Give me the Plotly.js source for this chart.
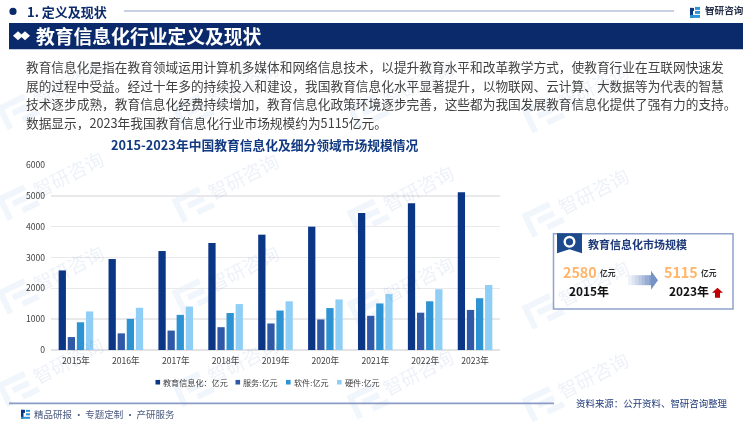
<!DOCTYPE html>
<html><head><meta charset="utf-8">
<script src="https://cdn.plot.ly/plotly-3.0.1.min.js"></script>
<style>html,body{margin:0;padding:0;background:#fff;overflow:hidden}#c{width:750px;height:422px}</style>
</head><body><div id="c"></div>
<script>
const years = ['2015年','2016年','2017年','2018年','2019年','2020年','2021年','2022年','2023年'];
const seriesNames = ['教育信息化：亿元','服务:亿元','软件:亿元','硬件:亿元'];
const seriesColors = ['#0b3585','#2f59a6','#2e93d2','#90cff5'];
const total = [2580,2950,3210,3470,3740,4000,4440,4760,5115];
const service = [420,540,630,740,860,990,1110,1210,1300];
const software = [900,1010,1140,1200,1280,1360,1510,1580,1680];
const hardware = [1250,1370,1410,1490,1580,1640,1820,1970,2110];
const seriesValues = [total,service,software,hardware];
const paragraph = [
 '教育信息化是指在教育领域运用计算机多媒体和网络信息技术，以提升教育水平和改革教学方式，使教育行业在互联网快速发',
 '展的过程中受益。经过十年多的持续投入和建设，我国教育信息化水平显著提升，以物联网、云计算、大数据等为代表的智慧',
 '技术逐步成熟，教育信息化经费持续增加，教育信息化政策环境逐步完善，这些都为我国发展教育信息化提供了强有力的支持。',
 '数据显示，2023年我国教育信息化行业市场规模约为5115亿元。'];

const FONT='"Noto Sans CJK SC","Noto Sans",sans-serif';
const L=51,R=500,T=164.5,B=350;
const X=p=>(p-L)/(R-L), Y=p=>(B-p)/(B-T);
const shapes=[], ann=[];
function rect(x0,y0,x1,y1,fill,extra){shapes.push(Object.assign({type:'rect',xref:'paper',yref:'paper',x0:X(x0),x1:X(x1),y0:Y(y0),y1:Y(y1),fillcolor:fill,line:{width:0},layer:'below'},extra||{}));}
function poly(pts,fill,layer){shapes.push({type:'path',xref:'paper',yref:'paper',path:'M'+pts.map(p=>X(p[0]).toFixed(5)+','+Y(p[1]).toFixed(5)).join('L')+'Z',fillcolor:fill,line:{width:0},layer:layer||'below'});}
function circle(cx,cy,r,fill){shapes.push({type:'circle',xref:'paper',yref:'paper',x0:X(cx-r),x1:X(cx+r),y0:Y(cy+r),y1:Y(cy-r),fillcolor:fill,line:{width:0},layer:'below'});}
function text(t,x,y,size,color,opt){ann.push(Object.assign({text:t,x:X(x),y:Y(y),xref:'paper',yref:'paper',xanchor:'left',yanchor:'middle',showarrow:false,align:'left',borderpad:0,font:{family:FONT,size:size,color:color}},opt||{}));}

// watermark
function logoMark(x,y,c){
 const a=-0.45,cs=Math.cos(a),sn=Math.sin(a);
 const P=(u,v)=>[x+u*cs-v*sn,y+u*sn+v*cs];
 [[-16,-12,14,-6],[-16,-6,-10,14],[-4,-2,14,4],[2,8,20,14]].forEach(r=>poly([P(r[0],r[1]),P(r[2],r[1]),P(r[2],r[3]),P(r[0],r[3])],c));
}
const watermarkSpots=[[68,173],[243,175],[418,187],[593,190],[68,267],[243,267],[418,278],[593,282],[68,360],[243,360],[418,372],[593,375],[243,82],[418,82],[593,85],[68,82]];
watermarkSpots.forEach(p=>{
 text('智研咨询',p[0],p[1],19,'#eef2f8',{xanchor:'center',textangle:-27});
 logoMark(p[0]-52,p[1]+28,'rgba(228,238,248,0.55)');
});

// header
circle(13,10.5,3.6,'#0b2a6b');
text('<b>1. 定义及现状</b>',26,11,13,'#0b2a6b');
rect(124,9.6,674,10.6,'#8fa3cc');
rect(690,7,694,10,'#0b3585');rect(690,7,693,17,'#0b3585');rect(695,6,700,9,'#2e93d2');rect(695,10,700,13,'#2e93d2');rect(690,14,700,17,'#2e93d2');
text('<b>智研咨询</b>',704,9.5,9.6,'#26304a');
rect(9,22,743,48.5,'#0b2a6b');
poly([[13,35],[18,30.5],[23,35],[18,39.5]],'#ffffff');
poly([[20,35],[25,30.5],[30,35],[25,39.5]],'#ffffff');
text('<b>教育信息化行业定义及现状</b>',35,35,18.8,'#ffffff');
paragraph.forEach((s,i)=>text(s,25,65.5+i*18.8,12.7,'#404040'));
text('<b>2015-2023年中国教育信息化及细分领域市场规模情况</b>',264,144,12.75,'#123a82',{xanchor:'center'});

// legend
[155.5,235.5,286,337].forEach((x,i)=>{
 rect(x,380,x+4.6,384.6,seriesColors[i]);
 text(seriesNames[i],x+6.5,382.3,8.1,'#404040');
});

// call-out box
shapes.push({type:'rect',xref:'paper',yref:'paper',x0:X(553.5),x1:X(733),y0:Y(309),y1:Y(233.5),fillcolor:'rgba(0,0,0,0)',line:{color:'#8fa3cc',width:1.5},layer:'below'});
poly([[557,233],[582,233],[582,253],[569.5,249],[557,253]],'#1d4a8c');
circle(569.5,241.5,6,'#ffffff');
circle(569.5,241.5,3.6,'#1d4a8c');
text('<b>教育信息化市场规模</b>',587,244,11,'#1f3a7a');
text('<b>2580</b>',562,271.5,14.3,'#ffb469');
text('<b>亿元</b>',599,272.5,7.8,'#333333');
text('<b>2015年</b>',568,290,11.9,'#111111');
text('<b>5115</b>',663,271.5,14.3,'#ffb469');
text('<b>亿元</b>',700,272.5,7.8,'#333333');
text('<b>2023年</b>',668,290,11.9,'#111111');
poly([[717.5,287.5],[723,292.5],[720,292.5],[720,297.5],[715,297.5],[715,292.5],[712,292.5]],'#c00000');
// gradient arrow
['#eef2f9','#dfe6f3','#cfd9ec','#bdcae4','#abbbdc','#98add4','#869fcc'].forEach((c,i)=>{
 rect(628+i*3.4,275,628+(i+1)*3.4+0.3,285,c);
});
poly([[651,270.5],[658,280],[651,289.5]],'#7693c5');

// footer
rect(9,402.6,554,404.4,'#8a9cc4');
rect(21,410,25,413,'#0b3585');rect(21,410,23.5,419,'#0b3585');rect(26,410,30,412,'#2e93d2');rect(26,413.5,30,415.5,'#2e93d2');rect(21,417,30,419,'#2e93d2');
text('精品研报\u2009·\u2009专题定制\u2009·\u2009产研服务',33,414.5,9.5,'#4a5a80');
text('资料来源：公开资料、智研咨询整理',575,403,9.45,'#1f3a7a');

const traces=seriesNames.map((n,i)=>({type:'bar',name:n,x:years,y:seriesValues[i],marker:{color:seriesColors[i],line:{width:0}},hoverinfo:'x+y+name'}));
Plotly.newPlot('c',traces,{
 width:750,height:422,
 margin:{l:L,r:750-R,t:T,b:422-B,pad:0,autoexpand:false},
 paper_bgcolor:'#ffffff',plot_bgcolor:'rgba(0,0,0,0)',
 showlegend:false,barmode:'group',bargap:0.27,bargroupgap:0.2,
 font:{family:FONT,size:8.6,color:'#404040'},
 xaxis:{type:'category',tickfont:{family:FONT,size:8.6,color:'#404040'},ticks:'',showgrid:false,showline:false,zeroline:false,ticklabelstandoff:4,automargin:false},
 yaxis:{range:[0,6000],tickvals:[0,1000,2000,3000,4000,5000,6000],ticktext:['0','1000','2000','3000','4000','5000','6000'],tickfont:{family:FONT,size:8.6,color:'#404040'},gridcolor:'#e9e9ec',gridwidth:1.4,zeroline:true,zerolinecolor:'#e3e3e6',zerolinewidth:1.4,showline:false,ticks:'',ticklabelstandoff:5,automargin:false},
 shapes:shapes,annotations:ann
},{displayModeBar:false,staticPlot:true}).then(gd=>{
 watermarkSpots.forEach((_,i)=>{
  const el=gd.querySelector('.annotation[data-index="'+i+'"]');
  if(el) el.style.mixBlendMode='multiply';
 });
});
</script></body></html>
